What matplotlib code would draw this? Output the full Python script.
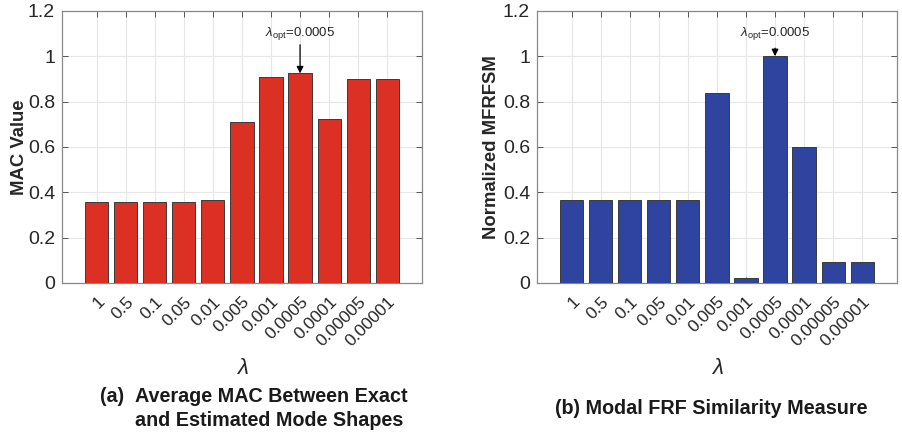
import matplotlib
matplotlib.use("Agg")
import matplotlib.pyplot as plt
import numpy as np

plt.rcParams['font.family'] = ['Liberation Sans', 'DejaVu Sans']
plt.rcParams['mathtext.fontset'] = 'custom'
plt.rcParams['mathtext.rm'] = 'Liberation Sans'
plt.rcParams['mathtext.it'] = 'Liberation Sans:italic'

lambdas = ['1', '0.5', '0.1', '0.05', '0.01', '0.005', '0.001', '0.0005',
           '0.0001', '0.00005', '0.00001']
mac_values = [0.357, 0.357, 0.357, 0.357, 0.365, 0.710, 0.909, 0.924, 0.725, 0.901, 0.901]
mfrfsm_values = [0.364, 0.364, 0.364, 0.364, 0.364, 0.838, 0.022, 1.0, 0.600, 0.093, 0.093]
yticks = [0, 0.2, 0.4, 0.6, 0.8, 1.0, 1.2]
ytick_labels = ['0', '0.2', '0.4', '0.6', '0.8', '1', '1.2']
opt_index = 7

fig = plt.figure(figsize=(9.02, 4.32), dpi=100)
ax1 = fig.add_axes([0.0687, 0.345, 0.399, 0.630])
ax2 = fig.add_axes([0.5953, 0.345, 0.399, 0.630])

def style(ax, values, color, ylabel, arrow_start, lpad):
    x = np.arange(len(lambdas))
    ax.bar(x, values, width=0.8, color=color, edgecolor='#3a3a3a', linewidth=0.7, zorder=3)
    ax.set_xlim(-1.19, len(lambdas) - 1 + 1.19)
    ax.set_ylim(0, 1.2)
    ax.set_xticks(x)
    ax.set_xticklabels(lambdas, rotation=45, ha='right', va='top', rotation_mode='anchor',
                       fontsize=12.5, color='#262626')
    ax.set_yticks(yticks)
    ax.set_yticklabels(ytick_labels, fontsize=14, color='#262626')
    ax.tick_params(axis='both', direction='in', top=True, right=True, length=4,
                   color='#555555', width=0.7)
    ax.tick_params(axis='x', pad=8)
    ax.tick_params(axis='y', pad=5)
    ax.grid(True, color='#e6e6e6', linewidth=0.8, zorder=0)
    ax.set_axisbelow(True)
    for s in ax.spines.values():
        s.set_color('#888888')
        s.set_linewidth(0.9)
    ax.set_ylabel(ylabel, fontsize=13.3, fontweight='bold', color='#262626', labelpad=lpad)
    ax.set_xlabel(r'$\it{\lambda}$', fontsize=16, color='#262626')
    ax.xaxis.set_label_coords(0.5, -(368 - 283) / 272, transform=ax.transAxes)
    ax.xaxis.label.set_va('center')
    top = values[opt_index]
    ax.annotate('', xy=(opt_index, top), xytext=(opt_index, arrow_start),
                arrowprops=dict(arrowstyle='-|>', color='black', lw=0.9,
                                mutation_scale=10, shrinkA=0, shrinkB=0))
    ax.text(opt_index, 1.1, r'$\lambda_{\rm opt}$=0.0005', fontsize=9.5,
            ha='center', va='center', color='#262626')

style(ax1, mac_values, '#dc3024', 'MAC Value', 1.05, 0)
style(ax2, mfrfsm_values, '#2e449e', 'Normalized MFRFSM', 1.035, 2)

cap = 14.2
fig.text(100 / 902, 1 - 396 / 432, '(a)', fontsize=cap, fontweight='bold',
         ha='left', va='center', color='#1a1a1a')
fig.text(135 / 902, 1 - 396 / 432, 'Average MAC Between Exact', fontsize=cap,
         fontweight='bold', ha='left', va='center', color='#1a1a1a')
fig.text(135 / 902, 1 - 420 / 432, 'and Estimated Mode Shapes', fontsize=cap,
         fontweight='bold', ha='left', va='center', color='#1a1a1a')
fig.text(711 / 902, 1 - 408 / 432, '(b) Modal FRF Similarity Measure', fontsize=cap,
         fontweight='bold', ha='center', va='center', color='#1a1a1a')

fig.savefig('out.png', dpi=100)
